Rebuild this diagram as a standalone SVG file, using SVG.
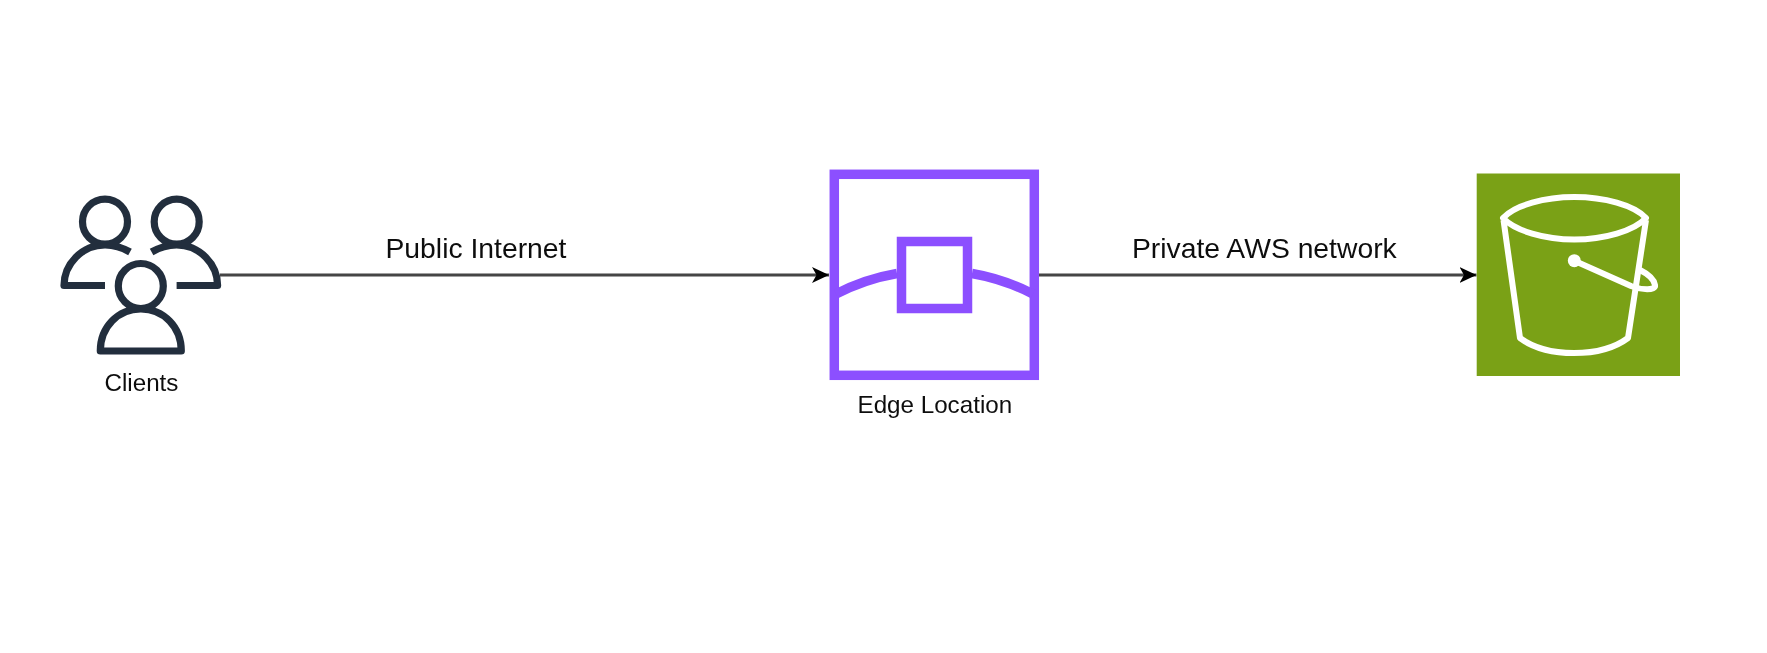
<svg xmlns="http://www.w3.org/2000/svg" width="1767" height="653" viewBox="0 0 1767 653">
<defs>
<style>
text{font-family:"Liberation Sans",Arial,sans-serif;fill:#111}
.edge{font-size:28.300px}.lab{font-size:24.200px}
.p{fill:none;stroke:#232F3E;stroke-width:7.200;stroke-linejoin:round}
.e{fill:none;stroke:#8C4FFF;stroke-width:9.500}
.b{fill:none;stroke:#fff;stroke-width:6;stroke-linejoin:round}
.c{fill:none;stroke:#444;stroke-width:2.800}
.s{filter:url(#soft)}
</style>
<filter id="soft" filterUnits="userSpaceOnUse" x="0" y="0" width="1767" height="653"><feGaussianBlur stdDeviation="0.700"/></filter>
<marker id="arr" markerUnits="userSpaceOnUse" markerWidth="18" markerHeight="18" refX="17" refY="9" orient="auto"><path d="M0,1L17,9L0,17L4.500,9Z" fill="#000"/></marker>
</defs>
<rect width="1767" height="653" fill="#fff"/>
<g id="connectors" class="s">
<path class="c" d="M220,275H829" marker-end="url(#arr)"/>
<path class="c" d="M1039,275H1476.500" marker-end="url(#arr)"/>
<text class="edge" x="385.500" y="258">Public Internet</text>
<text class="edge" x="1132" y="258">Private AWS network</text>
</g>
<g id="clients" class="s">
<circle class="p" cx="105" cy="221.700" r="22.500"/>
<circle class="p" cx="176.700" cy="221.700" r="22.500"/>
<circle class="p" cx="140.800" cy="286" r="22.500"/>
<path class="p" d="M130,252C123,248 114,245 105,245C82,245 64,264 64,285.500H105"/>
<path class="p" d="M151.600,252C158.600,248 167.600,245 176.600,245C199.600,245 217.600,264 217.600,285.500H176.600"/>
<path class="p" d="M100.300,351C100.300,327 118,309 140.800,309C163.600,309 181.300,327 181.300,351Z"/>
<text class="lab" x="104.500" y="391">Clients</text>
</g>
<g id="edge-location" class="s">
<rect class="e" x="834.300" y="174.300" width="200" height="201"/>
<rect class="e" x="901.500" y="241.500" width="66" height="67"/>
<path class="e" d="M836,294Q865,279 897,273.500M972,273.500Q1004,279 1033,294"/>
<text class="lab" x="857.500" y="413">Edge Location</text>
</g>
<g id="s3-bucket" class="s">
<rect x="1476.700" y="173.500" width="203.300" height="202.500" fill="#7AA116"/>
<path class="b" d="M1503,218C1515,205 1545,197 1574.300,197C1604,197 1634,205 1646,218C1634,231 1604,239.500 1574.300,239.500C1545,239.500 1515,231 1503,218Z"/>
<path class="b" d="M1503.500,220L1520,338Q1540,353 1574,353Q1608,353 1628,338L1646,220"/>
<circle cx="1574.300" cy="260.700" r="6.500" fill="#fff"/>
<path class="b" d="M1574.300,260.700L1631,286C1641,290 1656,291 1655,285C1654,279 1648,274 1640,270"/>
</g>
</svg>
